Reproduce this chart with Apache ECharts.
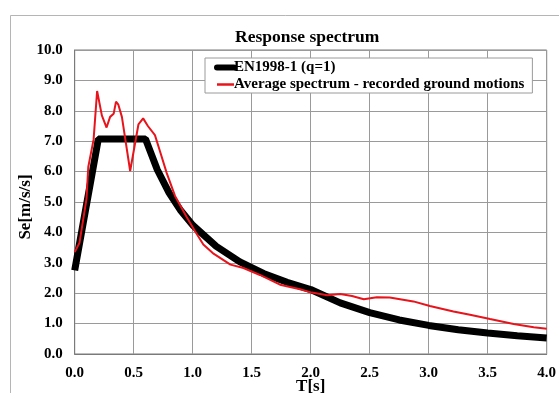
<!DOCTYPE html>
<html>
<head>
<meta charset="utf-8">
<script src="https://cdn.jsdelivr.net/npm/echarts@6/dist/echarts.min.js"></script>
<style>
html,body{margin:0;padding:0;background:#fff;}
#c{width:559px;height:393px;}
</style>
</head>
<body>
<div id="c"></div>
<script>
var titleText = 'Response spectrum';
var xName = 'T[s]';
var yName = 'Se[m/s/s]';
var seriesNames = ['EN1998-1 (q=1)', 'Average spectrum - recorded ground motions'];

var enPeriods = [0, 0.2, 0.6, 0.7, 0.8, 0.9, 1.0, 1.2, 1.4, 1.6, 1.8, 2.0, 2.25, 2.5, 2.75, 3.0, 3.25, 3.5, 3.75, 4.0];
var enValues  = [2.75, 7.07, 7.07, 6.06, 5.30, 4.71, 4.24, 3.54, 3.03, 2.65, 2.36, 2.12, 1.68, 1.36, 1.12, 0.94, 0.80, 0.69, 0.60, 0.53];

var avgPeriods = [0.00, 0.04, 0.10, 0.115, 0.13, 0.16, 0.19, 0.23, 0.27, 0.30, 0.33, 0.35, 0.37, 0.40, 0.47, 0.54, 0.58, 0.62, 0.68, 0.72, 0.78, 0.85, 0.95, 1.02, 1.09, 1.17, 1.32, 1.43, 1.57, 1.74, 1.91, 2.01, 2.14, 2.25, 2.35, 2.45, 2.56, 2.67, 2.87, 3.01, 3.21, 3.35, 3.52, 3.72, 3.89, 4.00];
var avgValues  = [3.35, 3.65, 5.10, 6.15, 6.20, 7.05, 8.65, 7.85, 7.45, 7.80, 7.90, 8.30, 8.20, 7.80, 6.02, 7.55, 7.75, 7.50, 7.20, 6.70, 5.95, 5.20, 4.50, 4.04, 3.60, 3.32, 2.94, 2.83, 2.60, 2.28, 2.13, 2.02, 1.93, 1.97, 1.91, 1.80, 1.87, 1.86, 1.73, 1.58, 1.40, 1.29, 1.15, 0.99, 0.88, 0.83];

function pairs(xs, ys){ return xs.map(function(x,i){ return [x, ys[i]]; }); }

var font = '"Liberation Serif", "Times New Roman", serif';
var chart = echarts.init(document.getElementById('c'), null, {renderer:'canvas'});
chart.setOption({
  animation: false,
  backgroundColor: '#fff',
  graphic: [{
    type: 'rect', silent: true, z: -10,
    shape: {x: 10.5, y: 15.5, width: 560, height: 390},
    style: {fill: 'none', stroke: '#b5b5b5', lineWidth: 1}
  }],
  title: {
    text: titleText, left: 230, top: 23,
    textStyle: {fontFamily: font, fontWeight: 'bold', fontSize: 17.5, color: '#000'}
  },
  legend: {
    orient: 'vertical', left: 205, top: 58,
    padding: [2, 8, 1, 9], itemGap: 2,
    itemWidth: 17, itemHeight: 8,
    backgroundColor: '#fff', borderColor: '#9a9a9a', borderWidth: 1,
    textStyle: {fontFamily: font, fontWeight: 'bold', fontSize: 15, color: '#000', padding: [0,0,0,-5]},
    data: [
      {name: seriesNames[0], lineStyle: {width: 6, color: '#000', cap: 'round'},
        itemStyle: {color: 'rgba(0,0,0,0)', borderColor: 'rgba(0,0,0,0)', borderWidth: 0}},
      {name: seriesNames[1], lineStyle: {width: 2.5, color: '#e8141c'},
        itemStyle: {color: 'rgba(0,0,0,0)', borderColor: 'rgba(0,0,0,0)', borderWidth: 0}}
    ]
  },
  grid: {left: 74.7, right: 12.3, top: 50, bottom: 39, outerBoundsMode: 'none', containLabel: false,
    show: true, borderColor: '#7a7a7a', borderWidth: 1},
  xAxis: {
    type: 'value', min: 0, max: 4, interval: 0.5,
    name: xName, nameLocation: 'middle', nameGap: 24, nameMoveOverlap: false,
    nameTextStyle: {fontFamily: font, fontWeight: 'bold', fontSize: 17, color: '#000'},
    axisLine: {show: true, lineStyle: {color: '#7a7a7a'}},
    axisTick: {show: false},
    axisLabel: {fontFamily: font, fontWeight: 'bold', fontSize: 15, color: '#000', margin: 12,
      formatter: function(v){ return v.toFixed(1); }},
    splitLine: {show: true, lineStyle: {color: '#9a9a9a', width: 1}}
  },
  yAxis: {
    type: 'value', min: 0, max: 10, interval: 1,
    name: yName, nameLocation: 'middle', nameGap: 41, nameMoveOverlap: false,
    nameTextStyle: {fontFamily: font, fontWeight: 'bold', fontSize: 17, color: '#000', padding: [0, 10, 0, 0]},
    axisLine: {show: true, lineStyle: {color: '#7a7a7a'}},
    axisTick: {show: false},
    axisLabel: {fontFamily: font, fontWeight: 'bold', fontSize: 15, color: '#000', margin: 12,
      formatter: function(v){ return v.toFixed(1); }},
    splitLine: {show: true, lineStyle: {color: '#9a9a9a', width: 1}}
  },
  series: [
    {name: seriesNames[0], type: 'line', data: pairs(enPeriods, enValues), showSymbol: false, symbol: 'none',
      lineStyle: {color: '#000', width: 7}, itemStyle: {color: '#000'}, z: 2},
    {name: seriesNames[1], type: 'line', data: pairs(avgPeriods, avgValues), showSymbol: false, symbol: 'none',
      lineStyle: {color: '#e8141c', width: 2}, itemStyle: {color: '#e8141c'}, z: 3}
  ]
});
</script>
</body>
</html>
